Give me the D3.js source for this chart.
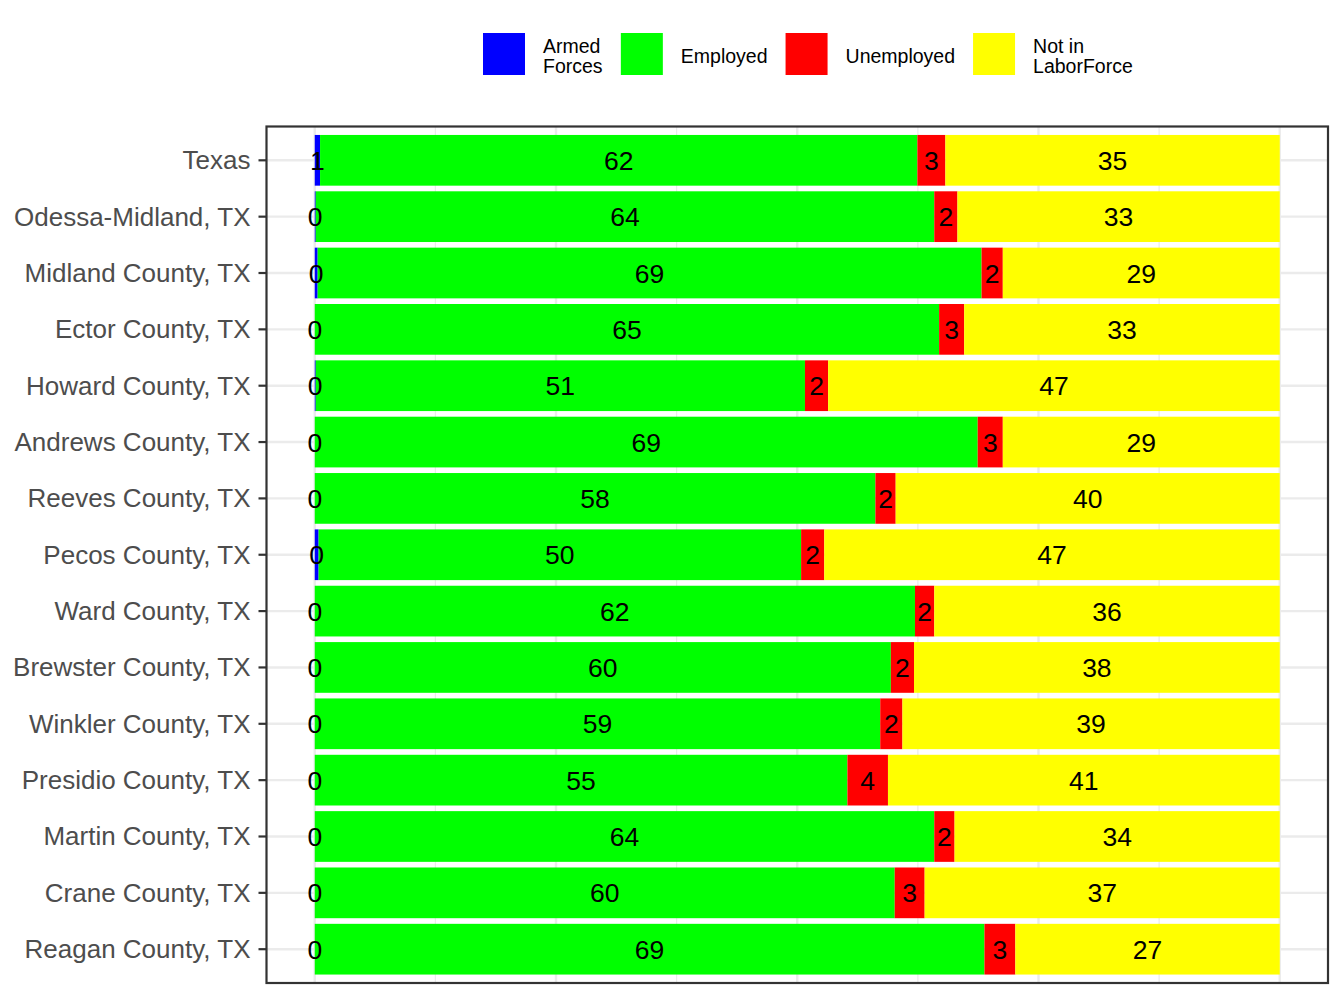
<!DOCTYPE html>
<html>
<head>
<meta charset="utf-8">
<script src="https://cdn.jsdelivr.net/npm/d3@7"></script>
<style>
  body { margin: 0; background: #fff; }
  text { font-family: "Liberation Sans", Arial, sans-serif; }
</style>
</head>
<body>
<div id="labor-chart"></div>
<script>
// categories, top to bottom
var categories = ["Texas", "Odessa-Midland, TX", "Midland County, TX", "Ector County, TX",
    "Howard County, TX", "Andrews County, TX", "Reeves County, TX", "Pecos County, TX",
    "Ward County, TX", "Brewster County, TX", "Winkler County, TX", "Presidio County, TX",
    "Martin County, TX", "Crane County, TX", "Reagan County, TX"];

// percent of population 16+
var armedForces = [0.55, 0.1, 0.3, 0, 0.1, 0, 0, 0.4, 0, 0, 0, 0, 0, 0, 0];
var employed = [61.9, 64.1, 68.8, 64.7, 50.7, 68.7, 58.1, 50.0, 62.2, 59.7, 58.6, 55.2, 64.2, 60.1, 69.4];
var unemployed = [2.9, 2.4, 2.2, 2.6, 2.4, 2.6, 2.1, 2.4, 2.0, 2.4, 2.3, 4.2, 2.1, 3.1, 3.2];
var notInLaborForce = [34.65, 33.4, 28.7, 32.7, 46.8, 28.7, 39.8, 47.2, 35.8, 37.9, 39.1, 40.6, 33.7, 36.8, 27.4];

var seriesKeys = ["Armed Forces", "Employed", "Unemployed", "Not in LaborForce"];
var seriesColors = ["#0000ff", "#00ff00", "#ff0000", "#ffff00"];
var xMajor = [0, 25, 50, 75, 100];
var xMinor = [12.5, 37.5, 62.5, 87.5];

drawLaborChart();

function drawLaborChart() {

    var rows = categories.map(function (c, i) {
        return {
            name: c,
            "Armed Forces": armedForces[i],
            "Employed": employed[i],
            "Unemployed": unemployed[i],
            "Not in LaborForce": notInLaborForce[i]
        };
    });

    var width = 1344, height = 1008;
    var panel = { left: 266.5, top: 126.5, right: 1328, bottom: 983 };

    var svg = d3.select("#labor-chart").append("svg")
        .attr("width", width)
        .attr("height", height);

    // ggplot style 5% expansion on x
    var x = d3.scaleLinear()
        .domain([-5, 105])
        .range([panel.left, panel.right]);

    var y = d3.scaleBand()
        .domain(categories)
        .range([panel.top, panel.bottom])
        .paddingInner(0.1)
        .paddingOuter(0.15);

    var color = d3.scaleOrdinal().domain(seriesKeys).range(seriesColors);

    var gridColor = "#ebebeb";

    // minor grid
    svg.append("g").selectAll("line")
        .data(xMinor)
        .enter().append("line")
        .attr("x1", function (d) { return x(d); })
        .attr("x2", function (d) { return x(d); })
        .attr("y1", panel.top)
        .attr("y2", panel.bottom)
        .attr("stroke", gridColor)
        .attr("stroke-width", 1.2);

    // major grid
    svg.append("g").selectAll("line")
        .data(xMajor)
        .enter().append("line")
        .attr("x1", function (d) { return x(d); })
        .attr("x2", function (d) { return x(d); })
        .attr("y1", panel.top)
        .attr("y2", panel.bottom)
        .attr("stroke", gridColor)
        .attr("stroke-width", 2.4);

    svg.append("g").selectAll("line")
        .data(categories)
        .enter().append("line")
        .attr("x1", panel.left)
        .attr("x2", panel.right)
        .attr("y1", function (d) { return y(d) + y.bandwidth() / 2; })
        .attr("y2", function (d) { return y(d) + y.bandwidth() / 2; })
        .attr("stroke", gridColor)
        .attr("stroke-width", 2.4);

    var stacked = d3.stack().keys(seriesKeys)(rows);

    var layers = svg.append("g").selectAll("g")
        .data(stacked)
        .enter().append("g")
        .attr("fill", function (d) { return color(d.key); });

    layers.selectAll("rect")
        .data(function (d) { return d; })
        .enter().append("rect")
        .attr("x", function (d) { return x(d[0]); })
        .attr("y", function (d) { return y(d.data.name); })
        .attr("width", function (d) { return x(d[1]) - x(d[0]); })
        .attr("height", y.bandwidth());

    // labels in the middle of each segment
    var labelLayers = svg.append("g").selectAll("g")
        .data(stacked)
        .enter().append("g");

    labelLayers.selectAll("text")
        .data(function (d) { return d; })
        .enter().append("text")
        .attr("x", function (d) { return x((d[0] + d[1]) / 2); })
        .attr("y", function (d) { return y(d.data.name) + y.bandwidth() / 2 + 9.5; })
        .attr("text-anchor", "middle")
        .attr("font-size", "26.5px")
        .attr("fill", "#000")
        .text(function (d) { return Math.round(d[1] - d[0]); });

    // y axis
    var yAxis = d3.axisLeft(y).tickSize(8).tickPadding(8);
    var gy = svg.append("g")
        .attr("transform", "translate(" + panel.left + ",0)")
        .call(yAxis);
    gy.select(".domain").remove();
    gy.selectAll(".tick line").attr("stroke", "#333333").attr("stroke-width", 2.2);
    gy.selectAll(".tick text")
        .attr("fill", "#4d4d4d")
        .attr("font-size", "26px")
        .attr("font-family", "Liberation Sans, Arial, sans-serif")
        .attr("dy", "0.34em");

    // panel border
    svg.append("rect")
        .attr("x", panel.left)
        .attr("y", panel.top)
        .attr("width", panel.right - panel.left)
        .attr("height", panel.bottom - panel.top)
        .attr("fill", "none")
        .attr("stroke", "#333333")
        .attr("stroke-width", 2.2);

    // legend
    var legend = svg.append("g");
    var keySize = 42, keyTop = 33, cursor = 483;
    seriesKeys.forEach(function (k, i) {
        legend.append("rect")
            .attr("x", cursor)
            .attr("y", keyTop)
            .attr("width", keySize)
            .attr("height", keySize)
            .attr("fill", seriesColors[i]);
        var lines = k === "Armed Forces" ? ["Armed", "Forces"] :
            k === "Not in LaborForce" ? ["Not in", "LaborForce"] : [k];
        var t = legend.append("text")
            .attr("x", cursor + keySize + 18)
            .attr("font-size", "19.5px")
            .attr("fill", "#000");
        lines.forEach(function (l, j) {
            t.append("tspan")
                .attr("x", cursor + keySize + 18)
                .attr("y", lines.length === 1 ? 63 : 53 + j * 20)
                .text(l);
        });
        cursor = cursor + keySize + 18 + t.node().getBBox().width + 18;
    });
}
</script>
</body>
</html>
